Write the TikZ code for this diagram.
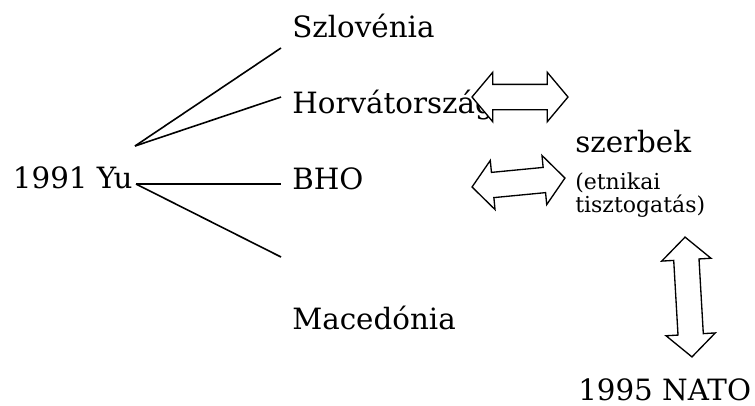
\documentclass[tikz,border=0pt]{standalone}
\usepackage{fontspec}
\setmainfont{DejaVu Serif}
\usetikzlibrary{shapes.arrows}
\tikzset{
  lbl/.style={anchor=base west, inner sep=0pt, font=\fontsize{22}{26}\selectfont},
  note/.style={anchor=base west, inner sep=0pt, align=left, font=\fontsize{16.5}{17.25}\selectfont},
  link/.style={line width=1.2pt},
  dblarr/.style={double arrow, draw, fill=white, line width=1pt, inner xsep=0pt, inner ysep=9pt,
    minimum width=36pt, double arrow head extend=9pt, double arrow tip angle=100},
}

\begin{document}
\begin{tikzpicture}[x=0.75pt, y=-0.75pt]
  \useasboundingbox (0,0) rectangle (755,405);
  % labels
  \node[lbl] (yu)   at (12.7,188) {1991 Yu};
  \node[lbl] (szlo) at (292,37)   {Szlovénia};
  \node[lbl] (horv) at (292,113)  {Horvátország};
  \node[lbl] (bho)  at (292,189)  {BHO};
  \node[lbl] (mac)  at (292,329)  {Macedónia};
  \node[lbl] (szb)  at (575,152)  {szerbek};
  \node[note] (etn) at (575,212)  {(etnikai\\tisztogatás)};
  \node[lbl] (nato) at (578,400)  {1995 NATO};
  % branches
  \coordinate (yuA) at (135,146);
  \coordinate (yuB) at (136,184);
  \coordinate (eSzlo) at (281,48);
  \coordinate (eHorv) at (281,97);
  \coordinate (eBho)  at (281,184);
  \coordinate (eMac)  at (281,257);
  \draw[link] (yuA) -- (eSzlo);
  \draw[link] (yuA) -- (eHorv);
  \draw[link] (yuB) -- (eBho);
  \draw[link] (yuB) -- (eMac);
  % double arrows
  \node[dblarr, minimum height=72pt] (arrH) at (520,97) {};
  \node[dblarr, minimum height=70pt, rotate=5.5] (arrB) at (518.5,182.5) {};
  \node[dblarr, minimum height=90pt, rotate=93.3, double arrow tip angle=95] (arrN) at (688.5,297) {};
\end{tikzpicture}
\end{document}
